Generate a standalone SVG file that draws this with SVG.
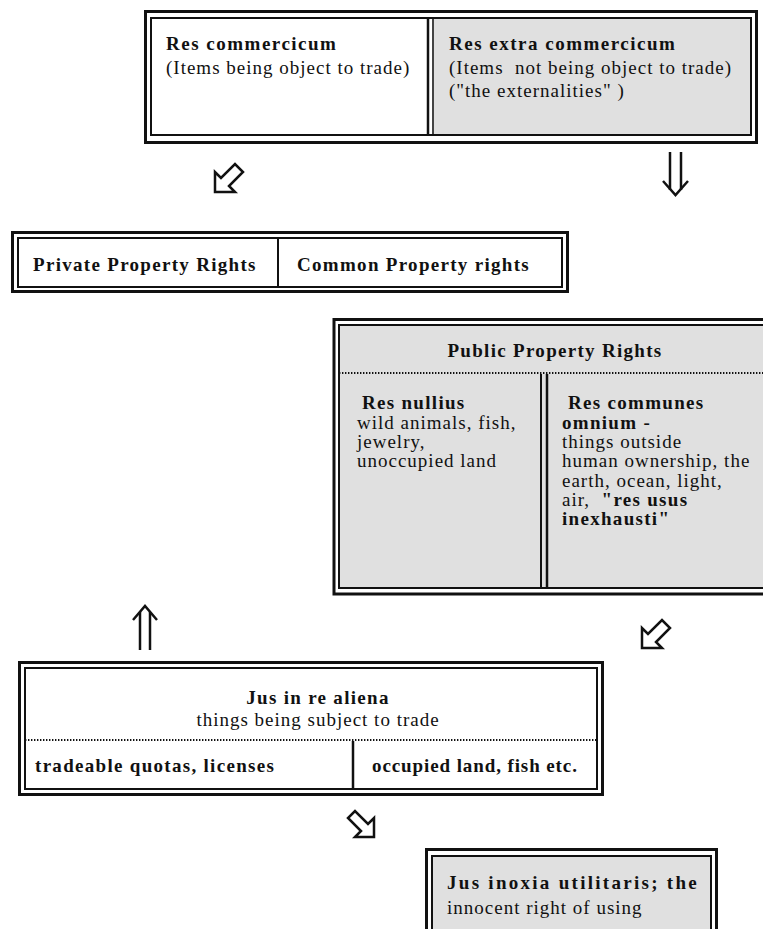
<svg xmlns="http://www.w3.org/2000/svg" width="763" height="929" viewBox="0 0 763 929">
<style>
.bg{fill:#ffffff}
.outer{fill:none;stroke:#111;stroke-width:3}
.inner{fill:none;stroke:#111;stroke-width:2}
.gray{fill:#e0e0e0;stroke:none}
.div{stroke:#111;stroke-width:2;fill:none}
.dot{stroke:#111;stroke-width:2;stroke-dasharray:1.4 1.6;fill:none}
text{font-family:"Liberation Serif","Times New Roman",serif;font-size:19px;fill:#111}
.b{font-weight:bold;letter-spacing:1.3px}
.r{letter-spacing:1px}
.arr{fill:#fff;stroke:#111;stroke-width:2.5;stroke-linejoin:miter}
.dbl{fill:none;stroke:#111;stroke-width:2.5}
</style>
<rect class="bg" x="0" y="0" width="763" height="929"/>

<g id="res-commercium">
  <rect class="gray" x="432" y="18" width="319" height="117"/>
  <rect class="outer" x="145.5" y="11.5" width="611" height="131"/>
  <rect class="inner" x="151" y="18" width="600" height="117"/>
  <line class="div" x1="428" y1="18" x2="428" y2="135" style="stroke-width:2.5"/>
  <line class="div" x1="433" y1="18" x2="433" y2="135" style="stroke-width:1.5"/>
  <text class="b" x="166" y="50" style="letter-spacing:1.5px">Res commercicum</text>
  <text class="r" x="166" y="74">(Items being object to trade)</text>
  <text class="b" x="449" y="50" style="letter-spacing:1.5px">Res extra commercicum</text>
  <text class="r" x="449" y="74" xml:space="preserve">(Items  not being object to trade)</text>
  <text class="r" x="449" y="97" xml:space="preserve">("the externalities" )</text>
</g>

<g id="property-rights">
  <rect class="outer" x="12.5" y="232.5" width="555" height="59"/>
  <rect class="inner" x="18" y="238" width="544" height="49"/>
  <line class="div" x1="278" y1="238" x2="278" y2="287"/>
  <text class="b" x="33" y="271">Private Property Rights</text>
  <text class="b" x="297" y="271">Common Property rights</text>
</g>

<g id="public-property-rights">
  <rect class="gray" x="339" y="325" width="430" height="263"/>
  <rect class="outer" x="334" y="319.5" width="440" height="274.5"/>
  <rect class="inner" x="339" y="325" width="430" height="263"/>
  <line class="dot" x1="339" y1="373" x2="763" y2="373"/>
  <line class="div" x1="541" y1="374" x2="541" y2="588"/>
  <line class="div" x1="547" y1="374" x2="547" y2="588" style="stroke-width:2.5"/>
  <text class="b" x="555" y="357" text-anchor="middle">Public Property Rights</text>
  <text class="b" x="362" y="409">Res nullius</text>
  <text class="r" x="357" y="429">wild animals, fish,</text>
  <text class="r" x="357" y="448">jewelry,</text>
  <text class="r" x="357" y="467">unoccupied land</text>
  <text class="b" x="568" y="409">Res communes</text>
  <text class="b" x="562" y="429">omnium -</text>
  <text class="r" x="562" y="448">things outside</text>
  <text class="r" x="562" y="467">human ownership, the</text>
  <text class="r" x="562" y="487">earth, ocean, light,</text>
  <text class="r" x="562" y="506" xml:space="preserve">air,  <tspan class="b">"res usus</tspan></text>
  <text class="b" x="562" y="525">inexhausti"</text>
</g>

<g id="jus-in-re-aliena">
  <rect class="outer" x="19.5" y="662.5" width="583" height="132"/>
  <rect class="inner" x="25" y="668" width="572" height="121"/>
  <line class="dot" x1="25" y1="740" x2="597" y2="740"/>
  <line class="div" x1="353" y1="741" x2="353" y2="789" style="stroke-width:2.5"/>
  <text class="b" x="318" y="704" text-anchor="middle">Jus in re aliena</text>
  <text class="r" x="318" y="726" text-anchor="middle">things being subject to trade</text>
  <text class="b" x="35" y="772">tradeable quotas, licenses</text>
  <text class="b" x="372" y="772" style="letter-spacing:0.9px">occupied land, fish etc.</text>
</g>

<g id="jus-inoxia">
  <rect class="gray" x="432" y="856" width="279" height="80"/>
  <rect class="outer" x="426.5" y="849.5" width="290" height="90"/>
  <rect class="inner" x="432" y="856" width="279" height="80"/>
  <text class="b" x="447" y="889" textLength="251" lengthAdjust="spacing">Jus inoxia utilitaris; the</text>
  <text class="r" x="447" y="914">innocent right of using</text>
</g>

<g id="connectors">
  <polygon class="arr" points="215,192 215,172 221,178 235,164 243,172 229,186 235,192"/>
  <g class="dbl">
    <line x1="670" y1="152" x2="670" y2="190"/>
    <line x1="681" y1="152" x2="681" y2="190"/>
    <polyline points="663,181 675.5,195 688,181"/>
  </g>
  <g class="dbl">
    <line x1="140" y1="612" x2="140" y2="650"/>
    <line x1="150" y1="612" x2="150" y2="650"/>
    <polyline points="133,620 145,606 157,620"/>
  </g>
  <polygon class="arr" points="642,648 642,628 648,634 662,620 670,628 656,642 662,648"/>
  <polygon class="arr" points="374,837 374,818 368,824 355,811 348,818 361,831 355,837"/>
</g>
</svg>
